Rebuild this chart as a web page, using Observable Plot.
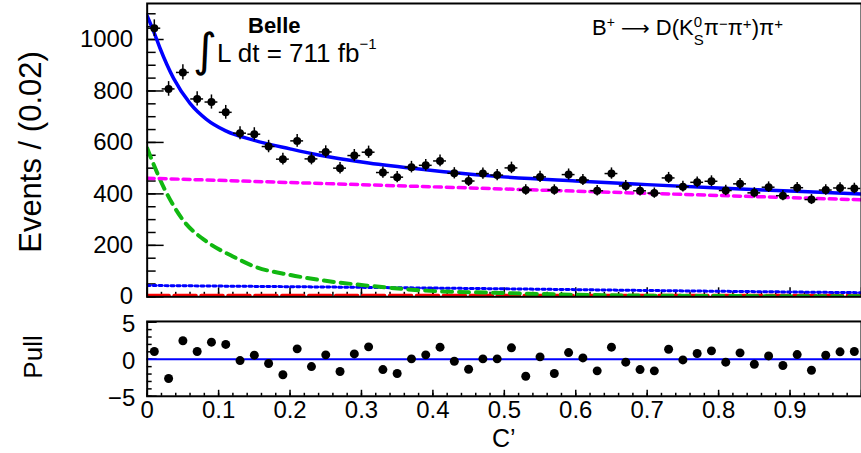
<!DOCTYPE html>
<html>
<head>
<meta charset="utf-8">
<script src="https://cdn.jsdelivr.net/npm/d3@7"></script>
<script src="https://cdn.jsdelivr.net/npm/@observablehq/plot@0.6"></script>
<style>
  html, body { margin: 0; padding: 0; background: #fff; overflow: hidden; }
  #wrap { position: relative; width: 861px; height: 453px; overflow: hidden; background: #fff; }
  #main, #pull { position: absolute; left: 0; }
  #main { top: 0; }
  #pull { top: 303px; }
  #overlay { position: absolute; left: 0; top: 0; pointer-events: none; }
</style>
</head>
<body>
<div id="wrap">
  <div id="main"></div>
  <div id="pull"></div>
  <svg id="overlay" width="861" height="453"></svg>
</div>
<script>
// ---------- data ----------
const binCenters = [0.01,0.03,0.05,0.07,0.09,0.11,0.13,0.15,0.17,0.19,
                    0.21,0.23,0.25,0.27,0.29,0.31,0.33,0.35,0.37,0.39,
                    0.41,0.43,0.45,0.47,0.49,0.51,0.53,0.55,0.57,0.59,
                    0.61,0.63,0.65,0.67,0.69,0.71,0.73,0.75,0.77,0.79,
                    0.81,0.83,0.85,0.87,0.89,0.91,0.93,0.95,0.97,0.99];
const events = [1044,808,872,769,757,717,636,632,584,535,
                606,536,563,500,549,562,483,465,504,511,
                528,480,450,479,473,501,415,466,415,475,
                454,412,479,431,412,403,462,428,445,449,
                413,439,404,426,393,424,378,415,423,421];
const pulls = [1.04,-2.6,2.5,1.04,2.3,2.0,-0.18,0.55,-0.58,-2.1,
               1.4,-0.99,0.59,-1.66,0.72,1.67,-1.4,-1.93,0.05,0.59,
               1.63,-0.27,-1.35,0.05,0.05,1.54,-2.3,0.32,-1.93,0.9,
               0.18,-1.57,1.63,-0.4,-1.4,-1.57,1.35,-0.09,0.77,1.13,
               -0.4,0.86,-0.68,0.45,-0.85,0.63,-1.49,0.54,1.0,1.04];

// total fit (blue solid)
const totalX = [0,0.01,0.018,0.037,0.06,0.083,0.11,0.15,0.2,0.24,0.31,0.39,0.48,0.6,0.7,0.8,0.9,1.0];
const totalY = [1092,1025,966,849,752,690,645,608,575,551,520,494,470,450,436,423,411,399];
// green dashed component
const greenX = [0,0.025,0.05,0.083,0.12,0.15,0.2,0.24,0.31,0.39,0.48,0.6,0.8,1.0];
const greenY = [577,415,299,215,157,118,85,66,43,24,16,8,3,2];
// magenta dashed component
const magentaX = [0,0.25,0.5,0.75,1.0];
const magentaY = [461,440,419,398,377];
// blue dotted component
const bdotX = [0,0.25,0.5,0.75,1.0];
const bdotY = [44,38,31,23,16];
// red dashed component
const redX = [0,1.0];
const redY = [5,5];

// ticks
const yMajor = [0,200,400,600,800,1000];
const yMinor = d3.range(0, 1140, 50);
const xMajor = [0,0.1,0.2,0.3,0.4,0.5,0.6,0.7,0.8,0.9,1.0];
const xLabels = [0,0.1,0.2,0.3,0.4,0.5,0.6,0.7,0.8,0.9];
const xMinor = d3.range(0, 1.001, 0.02);
const pullMajor = [-5,0,5];
const pullMinor = d3.range(-5, 5.01, 1);

const FONT = "'Liberation Sans', Arial, Helvetica, sans-serif";
const none = () => "";

const mainPlot = Plot.plot({
  width: 863, height: 312,
  marginLeft: 147, marginRight: 0, marginTop: 3, marginBottom: 15,
  x: {domain: [0, 1], label: null},
  y: {domain: [0, 1140], label: null},
  style: {fontFamily: FONT, fontSize: "24px", background: "transparent", color: "black"},
  marks: [
    Plot.axisY(yMajor, {tickSize: 0, tickPadding: 14, label: null, tickFormat: d => String(d)}),
    Plot.axisY(yMajor, {tickSize: -17, strokeWidth: 1.5, label: null, tickFormat: none}),
    Plot.axisY(yMinor, {tickSize: -9, strokeWidth: 1.5, label: null, tickFormat: none}),
    Plot.axisX(xMajor, {tickSize: -9, strokeWidth: 1.5, label: null, tickFormat: none}),
    Plot.axisX(xMinor, {tickSize: -4.5, strokeWidth: 1.5, label: null, tickFormat: none}),
    Plot.line(redX, {x: redX, y: redY, stroke: "#ff0000", strokeWidth: 3.5, strokeDasharray: "22,5", clip: true}),
    Plot.line(bdotX, {x: bdotX, y: bdotY, stroke: "#0000ff", strokeWidth: 3, strokeDasharray: "3,3", curve: "monotone-x", clip: true}),
    Plot.line(greenX, {x: greenX, y: greenY, stroke: "#11b811", strokeWidth: 4, strokeDasharray: "10,7", curve: "monotone-x", clip: true}),
    Plot.line(magentaX, {x: magentaX, y: magentaY, stroke: "#ff00ff", strokeWidth: 3.5, strokeDasharray: "7,5", curve: "monotone-x", clip: true}),
    Plot.line(totalX, {x: totalX, y: totalY, stroke: "#0000ff", strokeWidth: 3.5, curve: "monotone-x", clip: true}),
    Plot.ruleX(binCenters, {x: d => d, y1: (d, i) => events[i] - Math.sqrt(events[i]), y2: (d, i) => events[i] + Math.sqrt(events[i]), stroke: "black", strokeWidth: 1.5}),
    Plot.ruleY(binCenters, {y: (d, i) => events[i], x1: d => d - 0.009, x2: d => d + 0.009, stroke: "black", strokeWidth: 1.5}),
    Plot.dot(binCenters, {x: d => d, y: (d, i) => events[i], r: 4, fill: "black", stroke: "none"}),
    Plot.frame({stroke: "black", strokeWidth: 2})
  ]
});
document.getElementById("main").appendChild(mainPlot);

const pullPlot = Plot.plot({
  width: 863, height: 150,
  marginLeft: 147, marginRight: 0, marginTop: 18, marginBottom: 57,
  x: {domain: [0, 1], label: null},
  y: {domain: [-5, 5.1], label: null},
  style: {fontFamily: FONT, fontSize: "24px", background: "transparent", color: "black"},
  marks: [
    Plot.axisY(pullMajor, {tickSize: 0, tickPadding: 12, dy: 2, label: null, tickFormat: d => d < 0 ? "\u2212" + Math.abs(d) : String(d)}),
    Plot.axisY(pullMajor, {tickSize: -10, strokeWidth: 1.5, label: null, tickFormat: none}),
    Plot.axisY(pullMinor, {tickSize: -5, strokeWidth: 1.5, label: null, tickFormat: none}),
    Plot.axisX(xLabels, {tickSize: 0, tickPadding: 5, label: null, tickFormat: d => String(+d.toFixed(1))}),
    Plot.axisX(xMajor, {tickSize: -6, strokeWidth: 1.5, label: null, tickFormat: none}),
    Plot.axisX(xMinor, {tickSize: -3, strokeWidth: 1.5, label: null, tickFormat: none}),
    Plot.ruleY([0], {stroke: "#0000ff", strokeWidth: 2}),
    Plot.dot(binCenters, {x: d => d, y: (d, i) => pulls[i], r: 4.5, fill: "black", stroke: "none"}),
    Plot.frame({stroke: "black", strokeWidth: 2})
  ]
});
document.getElementById("pull").appendChild(pullPlot);

// ---------- text annotations ----------
const ov = d3.select("#overlay").style("font-family", FONT);

ov.append("text").attr("x", 248).attr("y", 33).attr("font-size", 22).attr("font-weight", "bold").text("Belle");
ov.append("text").attr("x", 193).attr("y", 66).attr("font-size", 46).attr("font-family", "'DejaVu Sans', sans-serif").text("\u222B");
const lum = ov.append("text").attr("x", 217).attr("y", 62).attr("font-size", 26);
lum.append("tspan").text("L dt = 711 fb");
lum.append("tspan").attr("font-size", 15).attr("dy", -13).text("\u22121");

const dec = ov.append("text").attr("x", 592).attr("y", 35).attr("font-size", 22);
dec.append("tspan").text("B");
dec.append("tspan").attr("font-size", 14).attr("dy", -8).text("+");
dec.append("tspan").attr("dy", 8).text(" ");
dec.append("tspan").attr("font-family", "'DejaVu Sans', sans-serif").attr("font-size", 20).text("\u27F6");
dec.append("tspan").text(" D(K");
dec.append("tspan").attr("font-size", 15).attr("dy", -8).text("0");
dec.append("tspan").attr("font-size", 15).attr("dx", -8.3).attr("dy", 18).text("S");
dec.append("tspan").attr("dy", -10).text("\u03C0");
dec.append("tspan").attr("font-size", 15).attr("dy", -6).text("\u2212");
dec.append("tspan").attr("dy", 6).text("\u03C0");
dec.append("tspan").attr("font-size", 15).attr("dy", -6).text("+");
dec.append("tspan").attr("dy", 6).text(")\u03C0");
dec.append("tspan").attr("font-size", 15).attr("dy", -6).text("+");

ov.append("text").attr("transform", "translate(41,152) rotate(-90)").attr("text-anchor", "middle")
  .attr("font-size", 31).text("Events / (0.02)");
ov.append("text").attr("transform", "translate(42,357) rotate(-90)").attr("text-anchor", "middle")
  .attr("font-size", 26).text("Pull");
ov.append("text").attr("x", 492).attr("y", 447).attr("font-size", 25).text("C\u2019");
</script>
</body>
</html>
